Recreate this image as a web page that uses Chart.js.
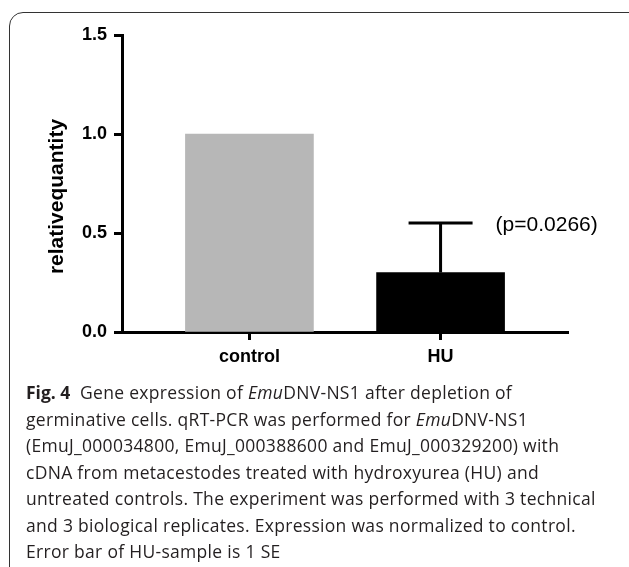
<!DOCTYPE html>
<html>
<head>
<meta charset="utf-8">
<script src="https://cdn.jsdelivr.net/npm/chart.js@4.4.0/dist/chart.umd.min.js"></script>
<style>
  html, body { margin: 0; padding: 0; background: #fff; }
  body { width: 629px; height: 567px; overflow: hidden; position: relative; }
  #frame {
    position: absolute; left: 9px; top: 12px; width: 640px; height: 580px;
    border: 1.3px solid #333; border-radius: 14px; box-sizing: border-box;
  }
  #chartBox { position: absolute; left: 0; top: 0; width: 629px; height: 380px; }
  #caption {
    position: absolute; left: 26px; top: 379px; width: 600px;
    font-family: "Open Sans", sans-serif; font-size: 17.5px; line-height: 26.5px;
    letter-spacing: 0.3px; color: #231f20; white-space: nowrap;
  }
  #caption b { font-weight: 700; letter-spacing: 0; }
</style>
</head>
<body>
<div id="frame"></div>
<div id="chartBox"><canvas id="graficoExpressao" width="629" height="380"></canvas></div>
<div id="caption">
  <b>Fig.&nbsp;4</b>&nbsp;&nbsp;Gene expression of <i>Emu</i>DNV-NS1 after depletion of<br>
  germinative cells. qRT-PCR was performed for <i>Emu</i>DNV-NS1<br>
  (EmuJ_000034800, EmuJ_000388600 and EmuJ_000329200) with<br>
  cDNA from metacestodes treated with hydroxyurea (HU) and<br>
  untreated controls. The experiment was performed with 3 technical<br>
  and 3 biological replicates. Expression was normalized to control.<br>
  Error bar of HU-sample is 1 SE
</div>
<script>
const categorias = ['control', 'HU']
const posicoes = [1, 2]
const medias = [1.0, 0.3]
const errosPadrao = [0, 0.25]
const coresBarras = ['#b7b7b7', '#000000']
const ticksY = [0, 0.5, 1.0, 1.5]
const rotuloP = '(p=0.0266)'
const tituloY = 'relativequantity'

const fonteEixo = '"Liberation Sans", Arial, sans-serif'

// barras de erro, texto do p-valor e titulo do eixo y
const barrasErro = {
    id: 'barrasErro',
    afterDatasetsDraw(chart) {
        const ctx = chart.ctx
        const x = chart.scales.x
        const y = chart.scales.y
        ctx.save()
        ctx.strokeStyle = '#000'
        ctx.lineWidth = 3
        for (let i = 0; i < medias.length; i++) {
            if (!errosPadrao[i]) continue
            let px = x.getPixelForValue(posicoes[i])
            let base = y.getPixelForValue(medias[i])
            let topo = y.getPixelForValue(medias[i] + errosPadrao[i])
            ctx.beginPath()
            ctx.moveTo(px, base)
            ctx.lineTo(px, topo)
            ctx.moveTo(px - 32, topo)
            ctx.lineTo(px + 32, topo)
            ctx.stroke()
            ctx.fillStyle = '#000'
            ctx.font = `21px ${fonteEixo}`
            ctx.textBaseline = 'middle'
            ctx.fillText(rotuloP, px + 55, topo + 2)
        }
        // titulo do eixo y, um pouco abaixo do centro como no original
        let cy = (chart.chartArea.top + chart.chartArea.bottom) / 2 + 13
        ctx.translate(y.left + 19, cy)
        ctx.rotate(-Math.PI / 2)
        ctx.font = `bold 21px ${fonteEixo}`
        ctx.textAlign = 'center'
        ctx.textBaseline = 'middle'
        ctx.fillStyle = '#000'
        ctx.fillText(tituloY, 0, 0)
        ctx.restore()
    }
}

window.graficoExpressao = new Chart(document.getElementById('graficoExpressao'), {
    type: 'bar',
    data: {
        datasets: [{
            data: posicoes.map((p, i) => ({ x: p, y: medias[i] })),
            backgroundColor: coresBarras,
            barThickness: 128,
            borderWidth: 0
        }]
    },
    options: {
        responsive: false,
        animation: false,
        layout: {
            padding: { left: 38, right: 61, top: 35, bottom: 0 }
        },
        plugins: {
            legend: { display: false },
            tooltip: { enabled: false }
        },
        scales: {
            x: {
                type: 'linear',
                min: 1 / 3,
                max: 8 / 3,
                offset: false,
                afterBuildTicks: function (scale) {
                    scale.ticks = posicoes.map(v => ({ value: v }))
                },
                afterFit: function (scale) { scale.height = 48 },
                ticks: {
                    autoSkip: false,
                    maxRotation: 0,
                    padding: 6,
                    color: '#000',
                    font: { family: fonteEixo, size: 18, weight: 'bold' },
                    callback: function (value) {
                        return categorias[posicoes.indexOf(value)]
                    }
                },
                grid: {
                    offset: false,
                    drawOnChartArea: false,
                    tickLength: 8,
                    tickWidth: 3,
                    tickColor: '#000'
                },
                border: { width: 3, color: '#000' }
            },
            y: {
                min: 0,
                max: 1.5,
                afterBuildTicks: function (scale) {
                    scale.ticks = ticksY.map(v => ({ value: v }))
                },
                afterFit: function (scale) { scale.width = 84 },
                ticks: {
                    padding: 7,
                    color: '#000',
                    font: { family: fonteEixo, size: 18, weight: 'bold' },
                    callback: function (value) {
                        return value.toFixed(1)
                    }
                },
                grid: {
                    drawOnChartArea: false,
                    tickLength: 8,
                    tickWidth: 3,
                    tickColor: '#000'
                },
                border: { width: 3, color: '#000' },
                title: { display: false }
            }
        }
    },
    plugins: [barrasErro]
})
</script>
</body>
</html>
